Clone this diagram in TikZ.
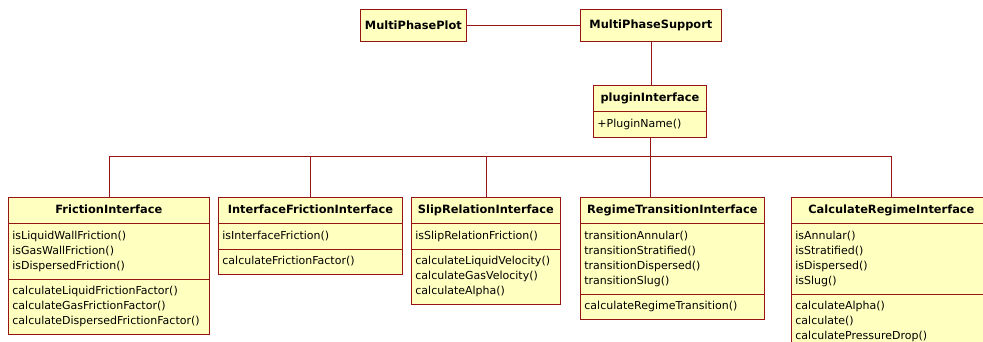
\documentclass[tikz,border=0pt]{standalone}
\usepackage{fontspec}
\setmainfont{DejaVu Sans}
\usetikzlibrary{shapes.multipart}
\definecolor{umlfill}{RGB}{255,255,192}
\definecolor{umlline}{RGB}{150,20,20}
\newcommand{\umltitle}[1]{\hfill\strut\textbf{\fontsize{11.4}{15}\selectfont #1}\hfill\null}

\begin{document}
\begin{tikzpicture}[x=1pt, y=-1pt,
    umlbox/.style={draw=umlline, fill=umlfill, line width=0.8pt, anchor=north west, inner sep=0pt, minimum height=32pt, font=\fontsize{11.4}{15}\selectfont\bfseries},
    umlclass/.style={rectangle split, rectangle split parts=#1, draw=umlline, fill=umlfill, line width=0.8pt, anchor=north west, inner xsep=4pt, inner ysep=5pt, align=left, font=\fontsize{11}{15}\selectfont},
    link/.style={umlline, line width=0.8pt}]
    \useasboundingbox (0,0) rectangle (983,342);
    \clip (0,0) rectangle (983,342);
    \node[umlbox, minimum width=106pt] (plot) at (360,9) {MultiPhasePlot};
    \node[umlbox, minimum width=141pt] (support) at (580,9) {MultiPhaseSupport};
    \node[umlclass=2, text width=105pt] (plugin) at (593,85) {\umltitle{pluginInterface}\nodepart{two}\strut+PluginName()};
    \node[umlclass=3, text width=193pt] (friction) at (8,197) {\umltitle{FrictionInterface}
        \nodepart{two}\strut isLiquidWallFriction()\\isGasWallFriction()\\isDispersedFriction()\strut
        \nodepart{three}\strut calculateLiquidFrictionFactor()\\calculateGasFrictionFactor()\\calculateDispersedFrictionFactor()\strut};
    \node[umlclass=3, text width=176pt] (ifriction) at (218,197) {\umltitle{InterfaceFrictionInterface}
        \nodepart{two}\strut isInterfaceFriction()
        \nodepart{three}\strut calculateFrictionFactor()};
    \node[umlclass=3, text width=141pt] (slip) at (411,197) {\umltitle{SlipRelationInterface}
        \nodepart{two}\strut isSlipRelationFriction()
        \nodepart{three}\strut calculateLiquidVelocity()\\calculateGasVelocity()\\calculateAlpha()\strut};
    \node[umlclass=3, text width=176pt] (regime) at (580,197) {\umltitle{RegimeTransitionInterface}
        \nodepart{two}\strut transitionAnnular()\\transitionStratified()\\transitionDispersed()\\transitionSlug()\strut
        \nodepart{three}\strut calculateRegimeTransition()};
    \node[umlclass=3, text width=192pt] (calcregime) at (791,197) {\umltitle{CalculateRegimeInterface}
        \nodepart{two}\strut isAnnular()\\isStratified()\\isDispersed()\\isSlug()\strut
        \nodepart{three}\strut calculateAlpha()\\calculate()\\calculatePressureDrop()\strut};
    \coordinate (bus) at (650,156);
    \draw[link] (plot) -- (support);
    \draw[link] (support.south) -- (support.south |- plugin.north);
    \draw[link] (plugin.south) -- (plugin.south |- regime.north);
    \foreach \n in {friction, ifriction, slip, calcregime}
        \draw[link] (plugin.south |- bus) -| (\n.north);
\end{tikzpicture}
\end{document}
